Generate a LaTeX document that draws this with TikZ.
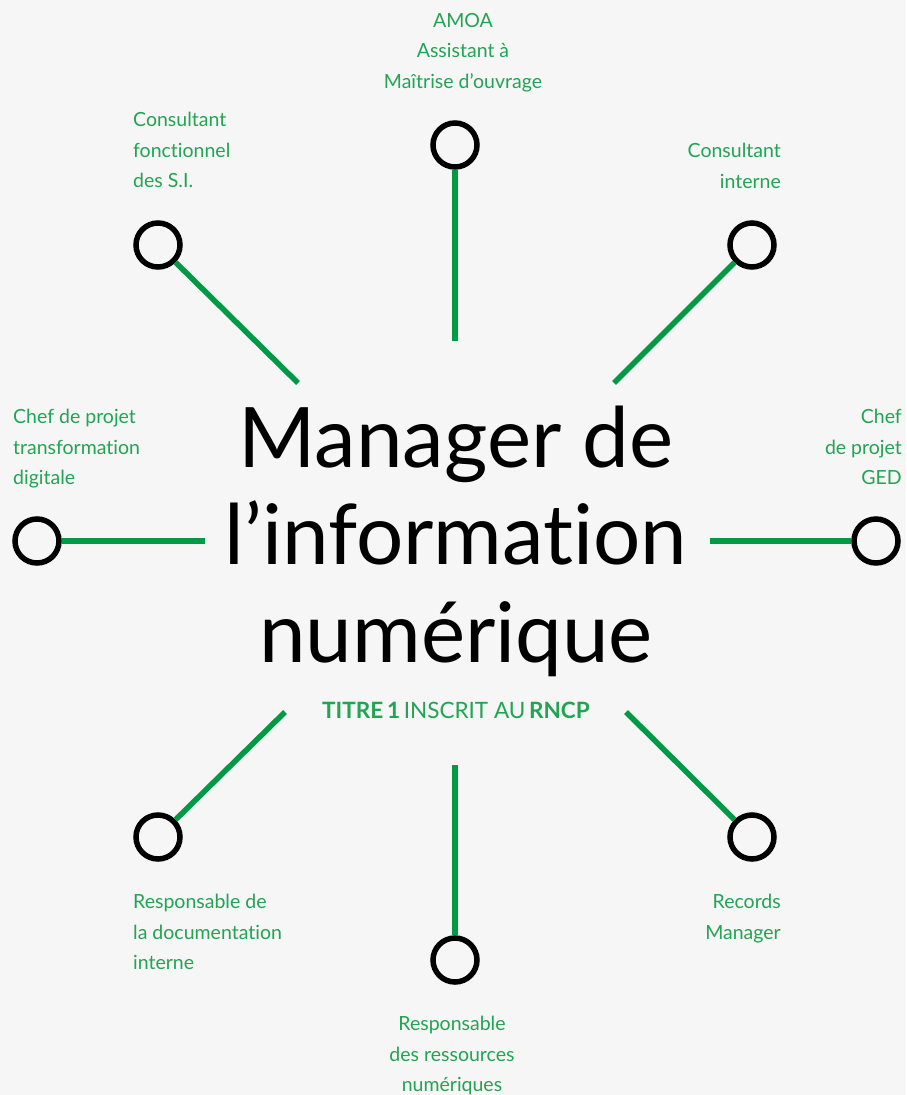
\documentclass[tikz,border=0pt]{standalone}
\usepackage{fontspec}
\setmainfont{Lato}[Ligatures={NoCommon}]
\definecolor{bgcol}{HTML}{F6F6F6}
\definecolor{linkgreen}{HTML}{009A44}
\definecolor{labelgreen}{HTML}{22A453}
\begin{document}
\begin{tikzpicture}[x=1pt,y=-1pt,
  hub/.style={circle,draw=black,line width=5.5pt,minimum size=44pt,inner sep=0pt,fill=none},
  link/.style={draw=linkgreen,line width=5.5pt},
  lbl/.style={text=labelgreen,inner sep=0pt,font=\fontsize{19.5}{30.5}\selectfont},
  title/.style={text=black,inner sep=0pt,align=center,font=\fontsize{83.5}{97.5}\selectfont}]
\fill[bgcol] (0,0) rectangle (906,1095);
\useasboundingbox (0,0) rectangle (906,1095);

% end circles
\node[hub] (n)  at (455,145) {};
\node[hub] (nw) at (158,245) {};
\node[hub] (ne) at (752,245) {};
\node[hub] (w)  at (37,541) {};
\node[hub] (e)  at (876,541) {};
\node[hub] (sw) at (158,837) {};
\node[hub] (se) at (752,837) {};
\node[hub] (s)  at (455,960) {};

% inner ends of the spokes
\coordinate (cn)  at (455,341);
\coordinate (cnw) at (298,383);
\coordinate (cne) at (614,383);
\coordinate (cw)  at (205,541);
\coordinate (ce)  at (710,541);
\coordinate (csw) at (285,712);
\coordinate (cse) at (626,712);
\coordinate (cs)  at (455,765);

\draw[link] (n)  -- (cn);
\draw[link] (nw) -- (cnw);
\draw[link] (ne) -- (cne);
\draw[link] (w)  -- (cw);
\draw[link] (e)  -- (ce);
\draw[link] (sw) -- (csw);
\draw[link] (se) -- (cse);
\draw[link] (s)  -- (cs);

% central title
\node[title] (t) at (456,541) {Manager de\\l’information\\numérique};
\node[text=labelgreen,inner sep=0pt,font=\fontsize{22.5}{26}\selectfont] (r) at (456,710)
  {\textbf{TITRE\,1}\,INSCRIT AU\,\textbf{RNCP}};

% job labels
\node[lbl,align=center,anchor=north] (ln) at (463,13) {AMOA\\Assistant à\\Maîtrise d’ouvrage};
\node[lbl,align=left,anchor=north west] (lnw) at (133,112) {Consultant\\fonctionnel\\des S.I.};
\node[lbl,align=right,anchor=north east] (lne) at (781,143) {Consultant\\interne};
\node[lbl,align=left,anchor=north west] (lw) at (13,409) {Chef de projet\\transformation\\digitale};
\node[lbl,align=right,anchor=north east] (le) at (902,409) {Chef\\de projet\\GED};
\node[lbl,align=left,anchor=north west] (lsw) at (133,894) {Responsable de\\la documentation\\interne};
\node[lbl,align=right,anchor=north east] (lse) at (781,894) {Records\\Manager};
\node[lbl,align=center,anchor=north] (ls) at (452,1016) {Responsable\\des ressources\\numériques};
\end{tikzpicture}
\end{document}
